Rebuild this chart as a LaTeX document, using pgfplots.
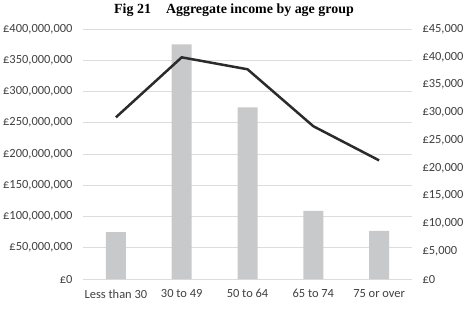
\documentclass[border=0pt]{standalone}
\usepackage{fontspec}
\setmainfont{Carlito}
\newfontfamily\titlefont{Liberation Serif}
\usepackage{pgfplots}
\pgfplotsset{compat=1.18}
\definecolor{barGrey}{HTML}{C8C9CB}
\definecolor{lineDark}{HTML}{2B2B2B}
\definecolor{gridGrey}{HTML}{DCDCDC}
\definecolor{labelGrey}{HTML}{404040}

\begin{document}
\begin{tikzpicture}[x=1bp,y=1bp]
\useasboundingbox (0,0) rectangle (468,312);
\node[font=\titlefont\bfseries\fontsize{14}{16}\selectfont] at (234,302)
  {Fig 21\hspace{15bp}Aggregate income by age group};

% Aggregate income (bars, left axis, millions of pounds)
\begin{axis}[
  at={(83bp,33bp)}, anchor=south west,
  scale only axis, width=329bp, height=250bp,
  xmin=-0.5, xmax=4.5, ymin=0, ymax=400,
  ybar, bar width=20bp,
  xtick={0,1,2,3,4},
  xticklabels={Less than 30, 30 to 49, 50 to 64, 65 to 74, 75 or over},
  ytick={0,50,100,150,200,250,300,350,400},
  yticklabels={£0,{£50,000,000},{£100,000,000},{£150,000,000},{£200,000,000},
               {£250,000,000},{£300,000,000},{£350,000,000},{£400,000,000}},
  scaled y ticks=false,
  ymajorgrids, grid style={gridGrey, line width=0.8bp},
  axis line style={draw=none},
  major tick length=0,
  tick label style={font=\fontsize{12.5}{14}\selectfont, text=labelGrey},
  xticklabel style={yshift=-7bp},
  yticklabel style={xshift=-7bp},
]
\addplot[fill=barGrey, draw=none] coordinates {
  (0,75) (1,375.5) (2,274.5) (3,109) (4,77)
};
\end{axis}

% Average income (line, right axis)
\begin{axis}[
  at={(83bp,33bp)}, anchor=south west,
  scale only axis, width=329bp, height=250bp,
  xmin=-0.5, xmax=4.5, ymin=0, ymax=45000,
  axis y line*=right, axis x line=none,
  ytick={0,5000,10000,15000,20000,25000,30000,35000,40000,45000},
  yticklabels={£0,{£5,000},{£10,000},{£15,000},{£20,000},{£25,000},
               {£30,000},{£35,000},{£40,000},{£45,000}},
  scaled y ticks=false,
  axis line style={draw=none},
  major tick length=0,
  tick label style={font=\fontsize{12.5}{14}\selectfont, text=labelGrey},
  yticklabel style={xshift=7bp},
]
\addplot[lineDark, line width=2.5bp, mark=none] coordinates {
  (0,29100) (1,39900) (2,37750) (3,27500) (4,21350)
};
\end{axis}
\end{tikzpicture}
\end{document}
